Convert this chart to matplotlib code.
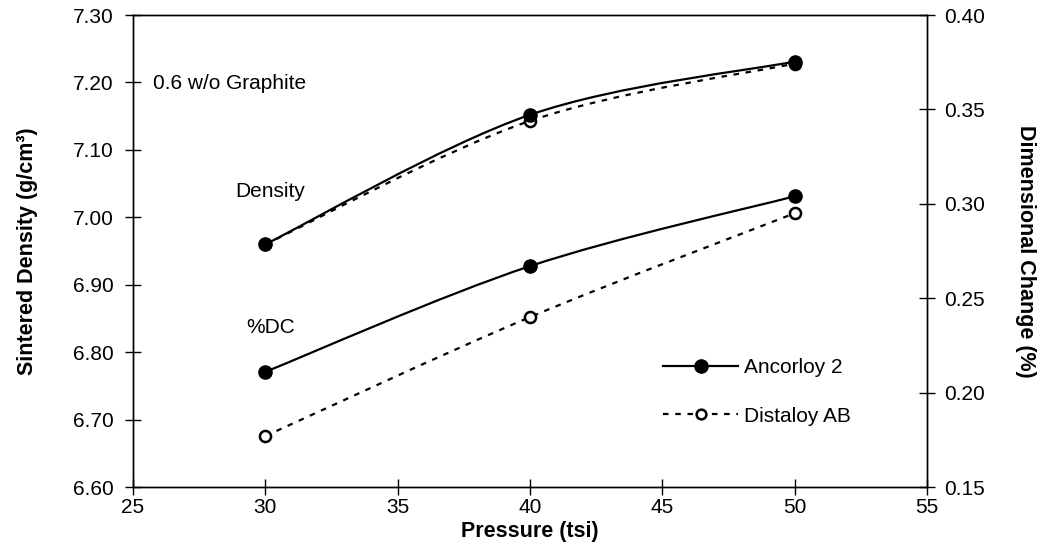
import matplotlib
matplotlib.use('Agg')
import matplotlib.pyplot as plt
from matplotlib.path import Path
from matplotlib.patches import PathPatch
from matplotlib.lines import Line2D

plt.rcParams['font.family'] = ['Liberation Sans', 'DejaVu Sans']

pressure = [30, 40, 50]
density_ancorloy = [6.960, 7.152, 7.231]
density_distaloy = [6.960, 7.143, 7.228]
dc_ancorloy = [0.211, 0.267, 0.304]
dc_distaloy = [0.177, 0.240, 0.295]

DASH = (0, (2.5, 3))


def smooth_path(x, y):
    # catmull-rom style bezier, like the spreadsheet "smoothed line"
    n = len(x)
    verts = [(x[0], y[0])]
    codes = [Path.MOVETO]
    for i in range(n - 1):
        i0 = max(i - 1, 0)
        i3 = min(i + 2, n - 1)
        c1 = (x[i] + (x[i + 1] - x[i0]) / 6, y[i] + (y[i + 1] - y[i0]) / 6)
        c2 = (x[i + 1] - (x[i3] - x[i]) / 6, y[i + 1] - (y[i3] - y[i]) / 6)
        verts += [c1, c2, (x[i + 1], y[i + 1])]
        codes += [Path.CURVE4] * 3
    return Path(verts, codes)


def draw(ax, y, solid):
    ls = '-' if solid else DASH
    ax.add_patch(PathPatch(smooth_path(pressure, y), fill=False, lw=1.6,
                           ls=ls, edgecolor='black', zorder=3 if solid else 2))
    if solid:
        ax.plot(pressure, y, 'o', ms=9.5, color='black', zorder=4)
    else:
        ax.plot(pressure, y, 'o', ms=8, mfc='white', mec='black', mew=1.8, zorder=3)


fig = plt.figure(figsize=(10.44, 5.58), dpi=100)
ax = fig.add_axes([0.1274, 0.1272, 0.7606, 0.8459])
ax2 = ax.twinx()

draw(ax, density_distaloy, False)
draw(ax, density_ancorloy, True)
draw(ax2, dc_distaloy, False)
draw(ax2, dc_ancorloy, True)

ax.set_xlim(25, 55)
ax.set_ylim(6.60, 7.30)
ax2.set_ylim(0.15, 0.40)
ax.set_xticks(range(25, 56, 5))
ax.set_yticks([6.6 + 0.1 * i for i in range(8)])
ax.set_yticklabels(['%.2f' % (6.6 + 0.1 * i) for i in range(8)])
ax2.set_yticks([0.15 + 0.05 * i for i in range(6)])
ax2.set_yticklabels(['%.2f' % (0.15 + 0.05 * i) for i in range(6)])

for a in (ax, ax2):
    a.tick_params(direction='inout', length=12, width=1, labelsize=15)
    for s in a.spines.values():
        s.set_linewidth(1)
ax.tick_params(axis='x', pad=2)
ax.tick_params(axis='y', pad=8)
ax2.tick_params(axis='y', pad=6)

ax.set_xlabel('Pressure (tsi)', fontsize=15.5, fontweight='bold', labelpad=3)
ax.set_ylabel('Sintered Density (g/cm\u00b3)', fontsize=15.5, fontweight='bold', labelpad=25)
ax2.set_ylabel('Dimensional Change (%)', fontsize=15.5, fontweight='bold',
               rotation=270, labelpad=37)

ax.text(0.025, 0.855, '0.6 w/o Graphite', transform=ax.transAxes, fontsize=15, va='center')
ax.text(0.129, 0.627, 'Density', transform=ax.transAxes, fontsize=15, va='center')
ax.text(0.143, 0.337, '%DC', transform=ax.transAxes, fontsize=15, va='center')

handles = [Line2D([], [], color='black', lw=1.6, marker='o', ms=9.5),
           Line2D([], [], color='black', lw=1.6, ls=DASH, marker='o',
                  ms=7, mfc='white', mew=1.8)]
ax2.legend(handles, ['Ancorloy 2', 'Distaloy AB'], loc='upper left',
           bbox_to_anchor=(0.668, 0.273), frameon=False, fontsize=15,
           handlelength=3.6, handletextpad=0.25, labelspacing=1.42,
           borderpad=0, borderaxespad=0)

fig.savefig('out.png', dpi=100)
